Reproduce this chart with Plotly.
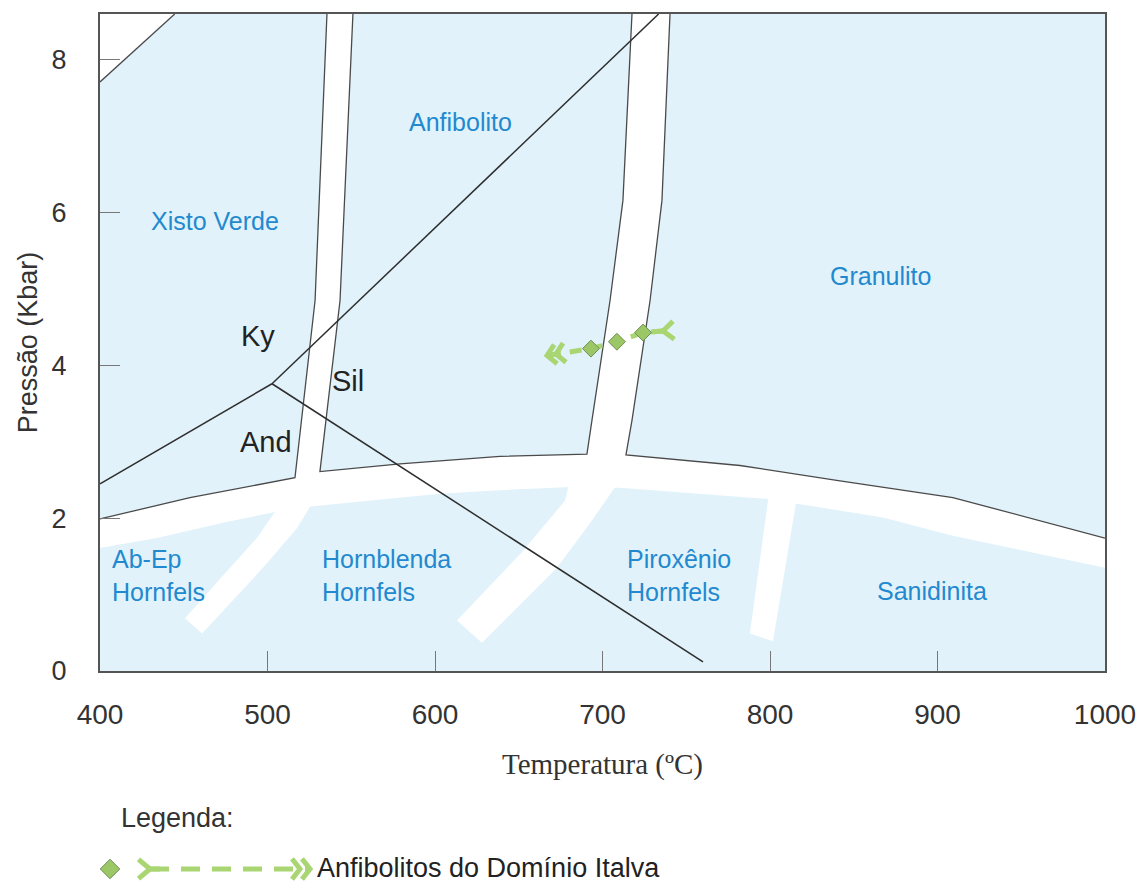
import math
import plotly.graph_objects as go

# ---------------- axes ----------------
T_RANGE = [400, 1000]
P_RANGE = [0, 8.6]
T_TICKS = [400, 500, 600, 700, 800, 900, 1000]
P_TICKS = [0, 2, 4, 6, 8]

# ---------------- Al2SiO5 reaction lines (T degC, P kbar) ----------------
KY_AND_T = [400, 502.7]
KY_AND_P = [2.45, 3.76]
KY_SIL_T = [502.7, 733.5]
KY_SIL_P = [3.76, 8.6]
AND_SIL_T = [502.7, 760.0]
AND_SIL_P = [3.76, 0.12]

# ---------------- outlined facies boundaries ----------------
EDGE_CORNER_T = [400, 444.6]
EDGE_CORNER_P = [7.71, 8.6]
EDGE_XV_T = [400, 453.7, 516.4, 528.4, 535.5]
EDGE_XV_P = [1.99, 2.27, 2.53, 4.85, 8.6]
EDGE_ANF_T = [551.0, 543.3, 531.3, 579.1, 638.8, 690.7, 693.7, 704.5, 712.2, 717.6]
EDGE_ANF_P = [8.6, 4.85, 2.61, 2.71, 2.81, 2.84, 3.28, 4.85, 6.16, 8.6]
EDGE_GRA_T = [740.3, 735.5, 728.4, 717.6, 714.0, 782.1, 841.8, 909.2, 1000]
EDGE_GRA_P = [8.6, 6.16, 4.85, 3.28, 2.83, 2.69, 2.49, 2.27, 1.74]

# ---------------- white transition bands (polygons) ----------------
BAND_CORNER_T = [400, 444.6, 400]
BAND_CORNER_P = [7.71, 8.6, 8.6]
BAND_XV_ANF_T = [535.5, 528.4, 516.4, 516.4, 531.3, 531.3, 543.3, 551.0]
BAND_XV_ANF_P = [8.6, 4.85, 2.53, 2.40, 2.45, 2.61, 4.85, 8.6]
BAND_ANF_GRA_T = [717.6, 712.2, 704.5, 693.7, 690.7, 690.7, 714.0, 714.0, 717.6, 728.4, 735.5, 740.3]
BAND_ANF_GRA_P = [8.6, 6.16, 4.85, 3.28, 2.84, 2.70, 2.70, 2.83, 3.28, 4.85, 6.16, 8.6]
BAND_LP_T = [400, 453.7, 516.4, 531.3, 579.1, 638.8, 690.7, 714.0, 782.1, 841.8, 909.2, 1000,
             1000, 909.2, 867.4, 816.1, 799.4, 710.4, 680.6, 632.8, 603.0, 528.4, 508.7,
             473.4, 434.0, 400]
BAND_LP_P = [1.99, 2.27, 2.53, 2.61, 2.71, 2.81, 2.84, 2.83, 2.69, 2.49, 2.27, 1.74,
             1.35, 1.77, 2.01, 2.19, 2.25, 2.40, 2.41, 2.36, 2.32, 2.16, 2.10,
             1.94, 1.74, 1.61]
BAND_AB_HB_T = [508.7, 493.7, 477.6, 450.7, 460.9, 497.3, 517.6, 528.4]
BAND_AB_HB_P = [2.22, 1.74, 1.35, 0.69, 0.49, 1.35, 1.87, 2.26]
BAND_HB_PX_T = [680.6, 677.6, 652.5, 613.1, 628.0, 672.8, 693.7, 710.4]
BAND_HB_PX_P = [2.50, 2.23, 1.57, 0.66, 0.37, 1.35, 1.97, 2.50]
BAND_PX_SA_T = [799.4, 788.0, 801.8, 816.1]
BAND_PX_SA_P = [2.33, 0.49, 0.39, 2.28]

# ---------------- P-T path: Anfibolitos do Dominio Italva ----------------
PATH_T = [736.1, 724.2, 708.6, 693.1, 666.9]
PATH_P = [4.45, 4.43, 4.31, 4.22, 4.13]
SAMPLE_T = [724.2, 708.6, 693.1]
SAMPLE_P = [4.43, 4.31, 4.22]

# ---------------- labels ----------------
FACIES_LABELS = ["Anfibolito", "Xisto Verde", "Granulito", "Sanidinita"]
FACIES_T = [615.5, 468.7, 865.7, 896.7]
FACIES_P = [7.18, 5.89, 5.17, 1.05]
HORNFELS_LABELS = ["Ab-Ep<br>Hornfels", "Hornblenda<br>Hornfels", "Piroxênio<br>Hornfels"]
HORNFELS_T = [406, 531.3, 713.4]
HORNFELS_P = [1.25, 1.25, 1.25]
MINERAL_LABELS = ["Ky", "Sil", "And"]
MINERAL_T = [494.3, 548.1, 499.1]
MINERAL_P = [4.38, 3.79, 3.00]
LEGEND_TITLE = "Legenda:"
PATH_NAME = "Anfibolitos do Domínio Italva"

# ---------------- styling ----------------
FIG_W, FIG_H = 1141, 885
M_L, M_R, M_T, M_B = 100, 36, 14, 0
PLOT_H = 657
PAPER_H = FIG_H - M_T - M_B
Y_DOMAIN_BOTTOM = (PAPER_H - PLOT_H) / PAPER_H
PLOT_W = FIG_W - M_L - M_R
KX = PLOT_W / (T_RANGE[1] - T_RANGE[0])
KY = PLOT_H / (P_RANGE[1] - P_RANGE[0])

BG_BLUE = "#e1f2fb"
LABEL_BLUE = "#2389cf"
EDGE_COL = "#4a4a4a"
LINE_COL = "#2e2e2e"
GREEN = "#a9d672"
DIAM_FILL = "#9cc767"
DIAM_EDGE = "#6f8f55"
TEXT_COL = "#333333"
SANS = "Liberation Sans, Arial, sans-serif"
SERIF = "Liberation Serif, Times New Roman, serif"

fig = go.Figure()


def add_poly(ts, ps):
    fig.add_trace(go.Scatter(x=ts, y=ps, mode="lines", fill="toself", fillcolor="white",
                             line=dict(width=0, color="white"), hoverinfo="skip",
                             showlegend=False))


def add_line(ts, ps, color, width):
    fig.add_trace(go.Scatter(x=ts, y=ps, mode="lines", line=dict(color=color, width=width),
                             hoverinfo="skip", showlegend=False))


for ts, ps in [(BAND_CORNER_T, BAND_CORNER_P), (BAND_XV_ANF_T, BAND_XV_ANF_P),
               (BAND_ANF_GRA_T, BAND_ANF_GRA_P), (BAND_LP_T, BAND_LP_P),
               (BAND_AB_HB_T, BAND_AB_HB_P), (BAND_HB_PX_T, BAND_HB_PX_P),
               (BAND_PX_SA_T, BAND_PX_SA_P)]:
    add_poly(ts, ps)

for ts, ps in [(EDGE_CORNER_T, EDGE_CORNER_P), (EDGE_XV_T, EDGE_XV_P),
               (EDGE_ANF_T, EDGE_ANF_P), (EDGE_GRA_T, EDGE_GRA_P)]:
    add_line(ts, ps, EDGE_COL, 1.3)

for ts, ps in [(KY_AND_T, KY_AND_P), (KY_SIL_T, KY_SIL_P), (AND_SIL_T, AND_SIL_P)]:
    add_line(ts, ps, LINE_COL, 1.5)


def unit(dx, dy):
    n = math.hypot(dx, dy)
    return dx / n, dy / n


def rot(ux, uy, deg):
    a = math.radians(deg)
    return ux * math.cos(a) - uy * math.sin(a), ux * math.sin(a) + uy * math.cos(a)


def chevrons(x0, y0, ux, uy, kx, ky, arm, half, count, spacing):
    xs, ys = [], []
    for i in range(count):
        tx = x0 - ux * spacing * i / kx
        ty = y0 - uy * spacing * i / ky
        b1 = rot(-ux, -uy, half)
        b2 = rot(-ux, -uy, -half)
        xs += [tx + b1[0] * arm / kx, tx, tx + b2[0] * arm / kx, None]
        ys += [ty + b1[1] * arm / ky, ty, ty + b2[1] * arm / ky, None]
    return xs, ys


def feather(x0, y0, ux, uy, kx, ky, arm, half, stem):
    b1 = rot(-ux, -uy, half)
    b2 = rot(-ux, -uy, -half)
    xs = [x0 + b1[0] * arm / kx, x0, x0 + b2[0] * arm / kx, None, x0, x0 + ux * stem / kx]
    ys = [y0 + b1[1] * arm / ky, y0, y0 + b2[1] * arm / ky, None, y0, y0 + uy * stem / ky]
    return xs, ys


def draw_path(ts, ps, st, sp, kx, ky, xa, ya, dash, arm_c, half_c, sp_c, arm_f, half_f, dsize):
    fig.add_trace(go.Scatter(x=ts, y=ps, mode="lines", xaxis=xa, yaxis=ya,
                             line=dict(color=GREEN, width=5, dash=dash),
                             hoverinfo="skip", showlegend=False))
    us = unit((ts[1] - ts[0]) * kx, (ps[1] - ps[0]) * ky)
    fx, fy = feather(ts[0], ps[0], us[0], us[1], kx, ky, arm_f, half_f, 10)
    ue = unit((ts[-1] - ts[-2]) * kx, (ps[-1] - ps[-2]) * ky)
    cx, cy = chevrons(ts[-1], ps[-1], ue[0], ue[1], kx, ky, arm_c, half_c, 2, sp_c)
    fig.add_trace(go.Scatter(x=fx + [None] + cx, y=fy + [None] + cy, mode="lines",
                             xaxis=xa, yaxis=ya, line=dict(color=GREEN, width=5),
                             hoverinfo="skip", showlegend=False))
    if st:
        fig.add_trace(go.Scatter(x=st, y=sp, mode="markers", xaxis=xa, yaxis=ya,
                                 marker=dict(symbol="diamond", size=dsize, color=DIAM_FILL,
                                             line=dict(color=DIAM_EDGE, width=1)),
                                 hoverinfo="skip", showlegend=False))


draw_path(PATH_T, PATH_P, SAMPLE_T, SAMPLE_P, KX, KY, "x", "y", "12px,9px",
          13, 48, 9, 14, 40, 13)

# ---------------- legend (drawn on a pixel-unit helper axis) ----------------
LEG_H = 0.12 * PAPER_H
LEG_ROW = 16
LEG_PATH_X = [50, 210]
LEG_PATH_Y = [LEG_ROW, LEG_ROW]
LEG_SAMPLE_X = [10]
LEG_SAMPLE_Y = [LEG_ROW]
draw_path(LEG_PATH_X, LEG_PATH_Y, [], [], 1, 1, "x2", "y2", "19px,12px",
          13, 52, 10, 15, 40, 15)
fig.add_trace(go.Scatter(x=LEG_SAMPLE_X, y=LEG_SAMPLE_Y, mode="markers", xaxis="x2", yaxis="y2",
                         marker=dict(symbol="diamond", size=15, color=DIAM_FILL,
                                     line=dict(color=DIAM_EDGE, width=1)),
                         hoverinfo="skip", showlegend=False))

annotations = []
for txt, t, p in zip(FACIES_LABELS, FACIES_T, FACIES_P):
    annotations.append(dict(x=t, y=p, text=txt, showarrow=False, xref="x", yref="y",
                            font=dict(family=SANS, size=25, color=LABEL_BLUE)))
for txt, t, p in zip(HORNFELS_LABELS, HORNFELS_T, HORNFELS_P):
    annotations.append(dict(x=t, y=p, text=txt, showarrow=False, xref="x", yref="y",
                            xanchor="left", align="left",
                            font=dict(family=SANS, size=25, color=LABEL_BLUE)))
for txt, t, p in zip(MINERAL_LABELS, MINERAL_T, MINERAL_P):
    annotations.append(dict(x=t, y=p, text=txt, showarrow=False, xref="x", yref="y",
                            font=dict(family=SANS, size=29, color="#222222")))
annotations.append(dict(x=19, y=67, text=LEGEND_TITLE, showarrow=False, xref="x2", yref="y2",
                        xanchor="left", font=dict(family=SANS, size=27, color=TEXT_COL)))
annotations.append(dict(x=215, y=LEG_ROW + 1, text=PATH_NAME, showarrow=False, xref="x2",
                        yref="y2", xanchor="left",
                        font=dict(family=SANS, size=27, color="#222222")))

fig.update_layout(
    width=FIG_W, height=FIG_H,
    margin=dict(l=M_L, r=M_R, t=M_T, b=M_B, autoexpand=False),
    paper_bgcolor="white", plot_bgcolor="white",
    showlegend=False,
    annotations=annotations,
    shapes=[dict(type="rect", xref="x domain", yref="y domain", x0=0, x1=1, y0=0, y1=1,
                 fillcolor=BG_BLUE, line=dict(width=0), layer="below")],
    xaxis=dict(range=T_RANGE, tickvals=T_TICKS, ticks="inside", ticklen=20, tickwidth=1,
               tickcolor="#777777", showgrid=False, zeroline=False, showline=True,
               mirror=True, linecolor="#555555", linewidth=2, anchor="y",
               ticklabelstandoff=17, automargin=False,
               tickfont=dict(family=SANS, size=28, color=TEXT_COL),
               title=dict(text="Temperatura (ºC)", standoff=25,
                          font=dict(family=SERIF, size=29, color=TEXT_COL))),
    yaxis=dict(range=P_RANGE, tickvals=P_TICKS, ticks="inside", ticklen=20, tickwidth=1,
               tickcolor="#777777", showgrid=False, zeroline=False, showline=True,
               mirror=True, linecolor="#555555", linewidth=2, anchor="x",
               domain=[Y_DOMAIN_BOTTOM, 1], ticklabelstandoff=26, automargin=False,
               tickfont=dict(family=SANS, size=27, color=TEXT_COL),
               title=dict(text="Pressão (Kbar)", standoff=6,
                          font=dict(family=SANS, size=27, color=TEXT_COL))),
    xaxis2=dict(range=[0, PLOT_W], domain=[0, 1], anchor="y2", visible=False, fixedrange=True),
    yaxis2=dict(range=[0, LEG_H], domain=[0, 0.12], anchor="x2", visible=False, fixedrange=True),
)

fig.write_html("out.html", post_script="document.body.style.margin='0';",
               config={"displayModeBar": False})
